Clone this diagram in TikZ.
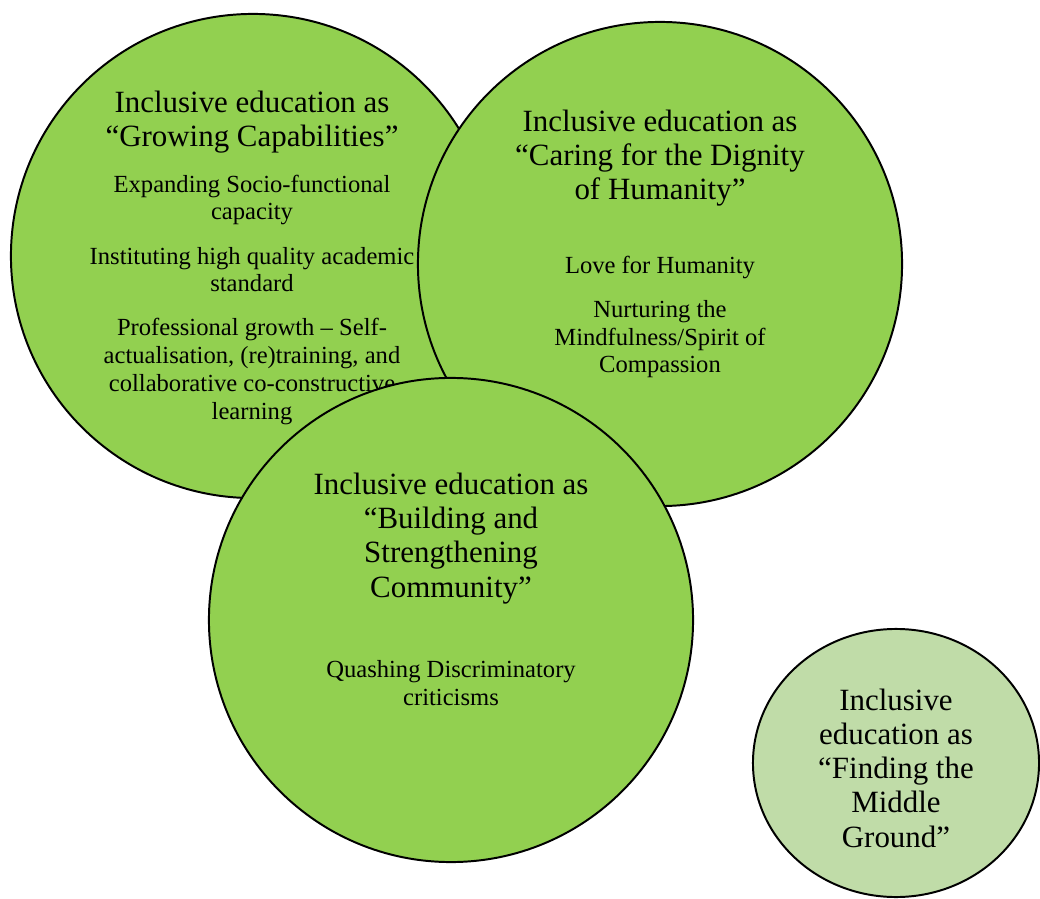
\documentclass[tikz,border=0pt]{standalone}
\usepackage{fontspec}
\setmainfont{Liberation Serif}
\usepackage{xcolor}
\usetikzlibrary{shapes.geometric, positioning, calc}

\definecolor{leafgreen}{HTML}{92D050}
\definecolor{palegreen}{HTML}{C0DCA8}

\tikzset{
  bubble/.style={circle, draw=black, fill=leafgreen, line width=1.4pt, minimum size=12.1cm, inner sep=0pt},
  smallbubble/.style={ellipse, draw=black, fill=palegreen, line width=1.4pt, minimum width=7.15cm, minimum height=6.7cm, inner sep=0pt},
  headline/.style={align=center, anchor=base, inner sep=0pt, font=\fontsize{22}{24.3}\selectfont},
  detail/.style={align=center, anchor=base, inner sep=0pt, font=\fontsize{17.5}{19.9}\selectfont}
}

\begin{document}
\begin{tikzpicture}[x=0.025cm, y=-0.025cm]
\useasboundingbox (0,0) rectangle (1040,899);

% Growing capabilities (text nodes sit on the baseline of their last line)
\node[bubble] (growing) at (253,256) {};
\node[headline] (growT) at (252,147) {Inclusive education as\\“Growing Capabilities”};
\node[detail] (growA) at (252,220) {Expanding Socio-functional\\capacity};
\node[detail] (growB) at (252,292) {Instituting high quality academic\\standard};
\node[detail] (growC) at (252,419) {Professional growth – Self-\\actualisation, (re)training, and\\collaborative co-constructive\\learning};

% Caring for the dignity of humanity
\node[bubble] (caring) at (660,264) {};
\node[headline] (careT) at (660,200) {Inclusive education as\\“Caring for the Dignity\\of Humanity”};
\node[detail] (careA) at (660,274) {Love for Humanity};
\node[detail] (careB) at (660,373) {Nurturing the\\Mindfulness/Spirit of\\Compassion};

% Building and strengthening community
\node[bubble] (community) at (451,620) {};
\node[headline] (commT) at (451,597) {Inclusive education as\\“Building and\\Strengthening\\Community”};
\node[detail] (commA) at (451,705) {Quashing Discriminatory\\criticisms};

% Finding the middle ground
\node[smallbubble] (middle) at (896,763) {};
\node[headline] (midT) at (896,847) {Inclusive\\education as\\“Finding the\\Middle\\Ground”};
\end{tikzpicture}
\end{document}
